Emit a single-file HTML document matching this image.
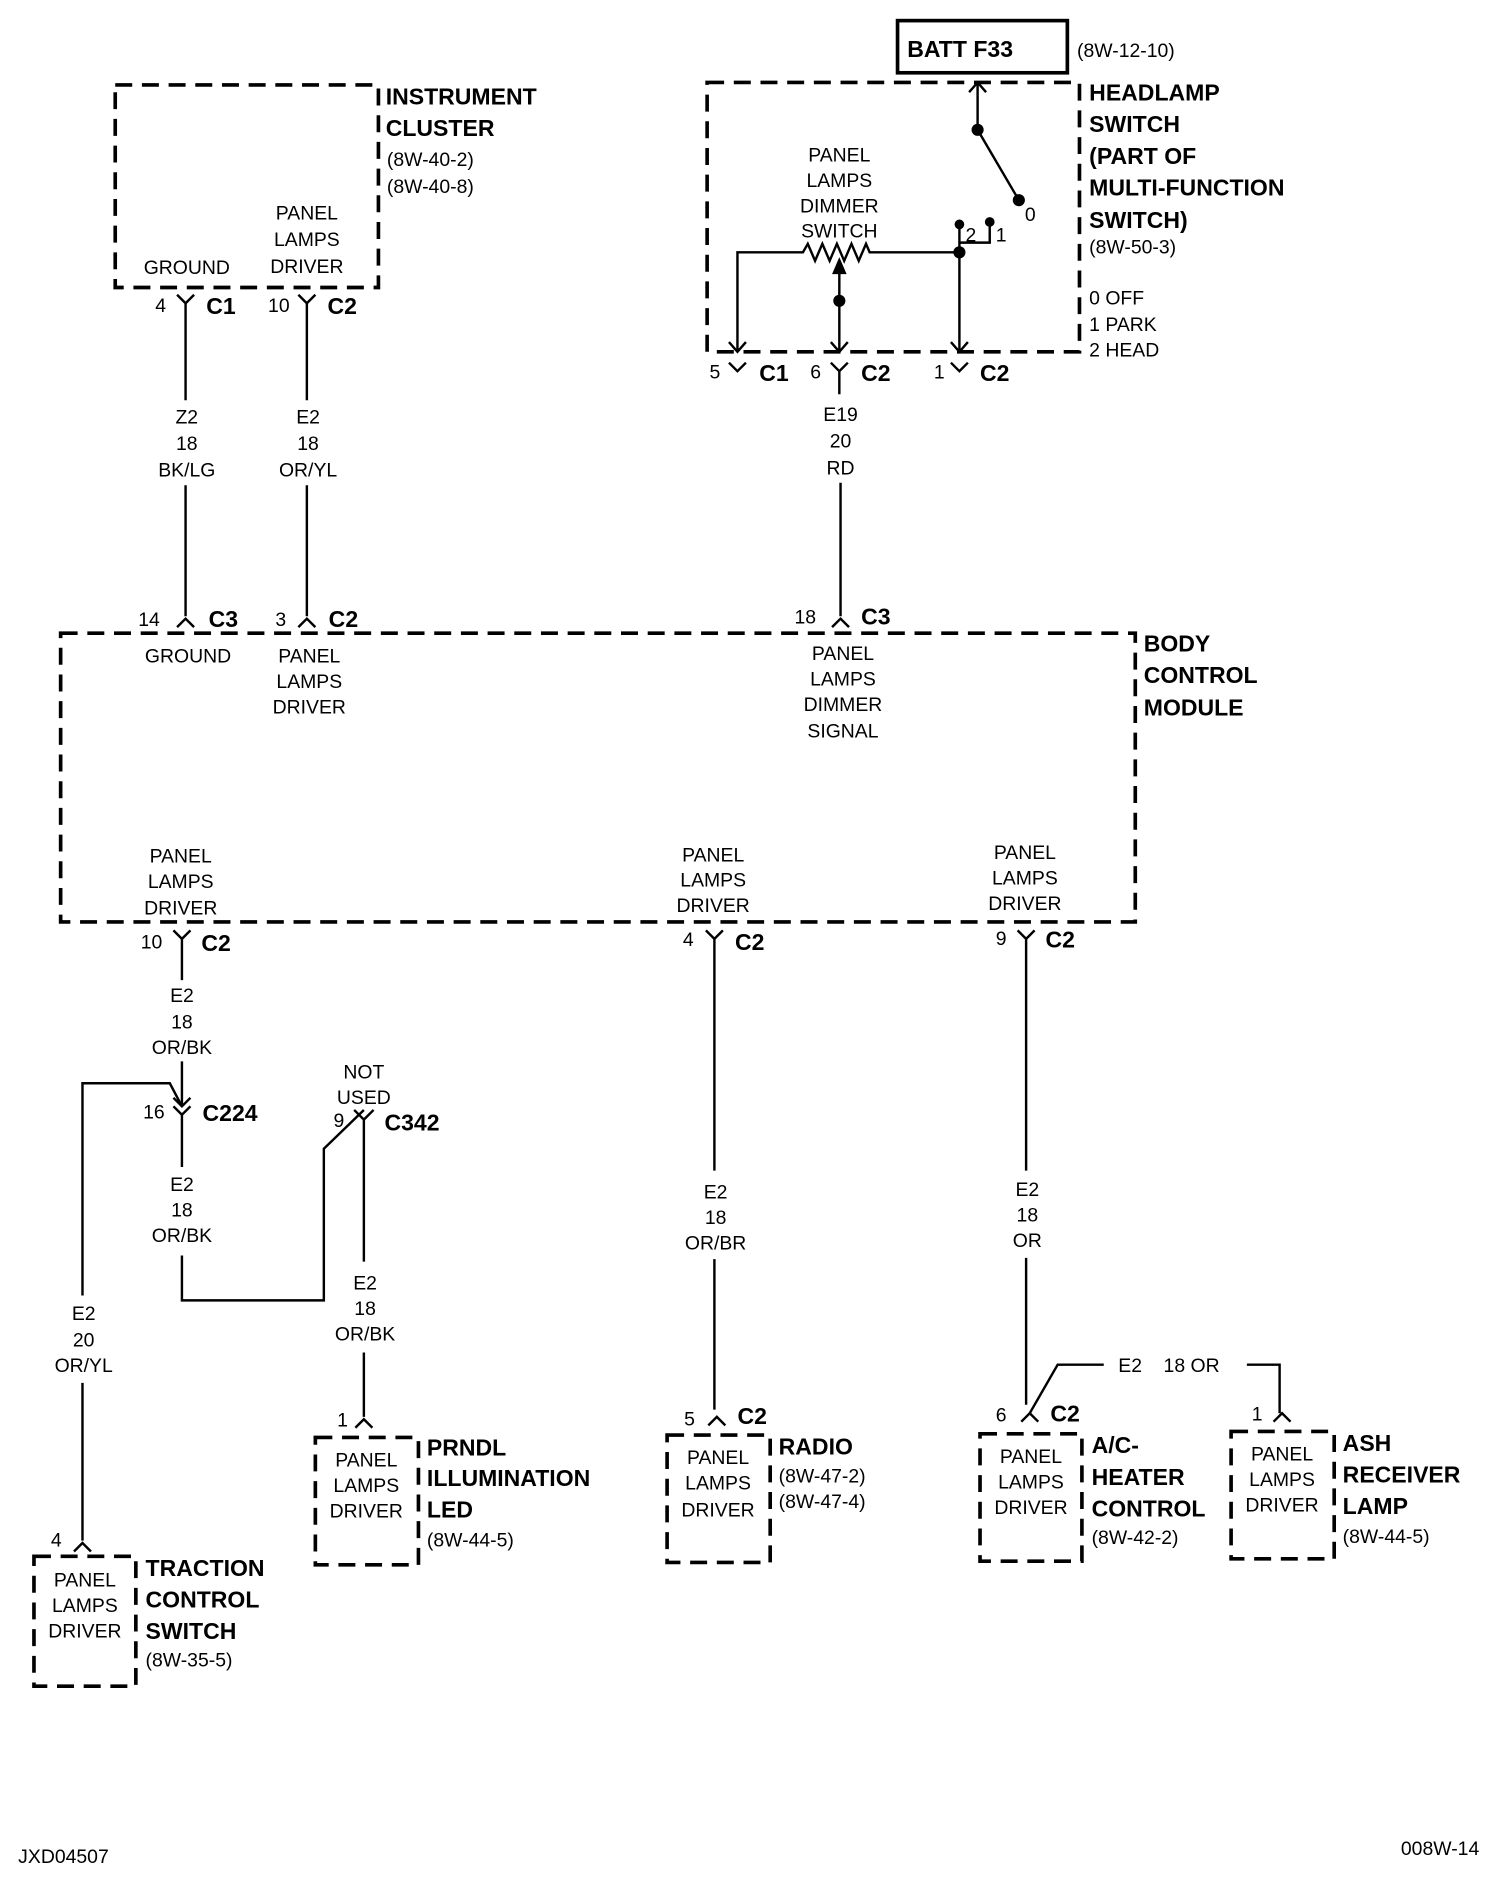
<!DOCTYPE html>
<html><head><meta charset="utf-8"><style>
html,body{margin:0;padding:0;background:#fff}
svg{display:block}
text{font-family:"Liberation Sans Narrow","Liberation Sans",sans-serif;fill:#000}
.t{font-size:16px}
.b{font-size:19px;font-weight:bold}
.c{text-anchor:middle}
</style></head><body>
<svg width="1504" height="1896" viewBox="0 0 1240 1563" preserveAspectRatio="none" xmlns="http://www.w3.org/2000/svg">
<g fill="none" stroke="#000" stroke-width="3" stroke-dasharray="14 8">
<rect x="95" y="70" width="217" height="167"/>
<rect x="583" y="68" width="307" height="222"/>
<rect x="50" y="522" width="886" height="238"/>
<rect x="260" y="1185" width="85" height="105"/>
<rect x="28" y="1283" width="84" height="107"/>
<rect x="550" y="1183" width="85" height="105"/>
<rect x="808" y="1182" width="84" height="105"/>
<rect x="1015" y="1180" width="85" height="105"/>
</g>
<rect x="740" y="17" width="140" height="43" fill="none" stroke="#000" stroke-width="3"/>
<g fill="none" stroke="#000" stroke-width="2">
<path d="M153 250V330M153 400V508"/>
<path d="M253 250V330M253 400V508"/>
<path d="M146 243L153 250L160 243M246 243L253 250L260 243"/>
<path d="M146 517L153 510L160 517M246 517L253 510L260 517"/>
<path d="M806 68V107L840 165"/>
<path d="M799 76L806 68L813 76"/>
<path d="M608 290V208H662l4-7l6 14l6-14l6 14l6-14l6 14l6-14l6 14l6-14l3 7H791"/>
<path d="M791 187V290M816 185V200H791"/>
<path d="M601 282L608 290L615 282M784 282L791 290L798 282M685 282L692 290L699 282"/>
<path d="M692 225V290"/>
<path d="M601 299L608 306L615 299M784 299L791 306L798 299M685 299L692 306L699 299M692 306V325"/>
<path d="M693 398V508M686 517L693 510L700 517"/>
<path d="M143 767L150 774L157 767M150 774V808M150 875V912"/>
<path d="M582 767L589 774L596 767M589 774V965M589 1038V1162"/>
<path d="M839 767L846 774L853 767M846 774V965M846 1037V1158"/>
<path d="M143 905L150 912L157 905M143 912L150 919L157 912M150 919V962M150 1035V1072H267V947L300 915"/>
<path d="M68 1270V1140M68 1068V893H140L150 912"/>
<path d="M292 915L300 923L308 915M300 923V1040M300 1115V1168"/>
<path d="M293 1177L300 1170L307 1177M61 1279L68 1272L75 1279M584 1175L591 1168L598 1175M842 1172L849 1165L856 1172M1050 1172L1057 1165L1064 1172"/>
<path d="M849 1165L872 1125H910M1028 1125H1055V1165"/>
</g>
<g fill="#000">
<circle cx="806" cy="107" r="5"/><circle cx="840" cy="165" r="5"/>
<circle cx="791" cy="185" r="4"/><circle cx="816" cy="183" r="4"/>
<circle cx="791" cy="208" r="5"/><circle cx="692" cy="248" r="5"/>
<path d="M692 212L686 226H698Z"/>
</g>
<text class="b" x="318" y="86">INSTRUMENT</text>
<text class="b" x="318" y="112">CLUSTER</text>
<text class="t" x="319" y="137">(8W-40-2)</text>
<text class="t" x="319" y="159">(8W-40-8)</text>
<text class="t c" x="154" y="226">GROUND</text>
<text class="t c" x="253" y="181">PANEL</text><text class="t c" x="253" y="203">LAMPS</text><text class="t c" x="253" y="225">DRIVER</text>
<text class="t" x="128" y="257">4</text><text class="b" x="170" y="259">C1</text>
<text class="t" x="221" y="257">10</text><text class="b" x="270" y="259">C2</text>
<text class="t c" x="154" y="349">Z2</text><text class="t c" x="154" y="371">18</text><text class="t c" x="154" y="393">BK/LG</text>
<text class="t c" x="254" y="349">E2</text><text class="t c" x="254" y="371">18</text><text class="t c" x="254" y="393">OR/YL</text>
<text class="t" x="114" y="516">14</text><text class="b" x="172" y="517">C3</text>
<text class="t" x="227" y="516">3</text><text class="b" x="271" y="517">C2</text>
<text class="t" x="655" y="514">18</text><text class="b" x="710" y="515">C3</text>
<text class="b" x="748" y="47">BATT F33</text>
<text class="t" x="888" y="47">(8W-12-10)</text>
<text class="b" x="898" y="83">HEADLAMP</text><text class="b" x="898" y="109">SWITCH</text><text class="b" x="898" y="135">(PART OF</text><text class="b" x="898" y="161">MULTI-FUNCTION</text><text class="b" x="898" y="188">SWITCH)</text>
<text class="t" x="898" y="209">(8W-50-3)</text>
<text class="t" x="898" y="251">0 OFF</text><text class="t" x="898" y="273">1 PARK</text><text class="t" x="898" y="294">2 HEAD</text>
<text class="t c" x="692" y="133">PANEL</text><text class="t c" x="692" y="154">LAMPS</text><text class="t c" x="692" y="175">DIMMER</text><text class="t c" x="692" y="196">SWITCH</text>
<text class="t" x="845" y="182">0</text><text class="t" x="796" y="199">2</text><text class="t" x="821" y="199">1</text>
<text class="t" x="585" y="312">5</text><text class="b" x="626" y="314">C1</text>
<text class="t" x="668" y="312">6</text><text class="b" x="710" y="314">C2</text>
<text class="t" x="770" y="312">1</text><text class="b" x="808" y="314">C2</text>
<text class="t c" x="693" y="347">E19</text><text class="t c" x="693" y="369">20</text><text class="t c" x="693" y="391">RD</text>
<text class="b" x="943" y="537">BODY</text><text class="b" x="943" y="563">CONTROL</text><text class="b" x="943" y="590">MODULE</text>
<text class="t c" x="155" y="546">GROUND</text>
<text class="t c" x="255" y="546">PANEL</text><text class="t c" x="255" y="567">LAMPS</text><text class="t c" x="255" y="588">DRIVER</text>
<text class="t c" x="695" y="544">PANEL</text><text class="t c" x="695" y="565">LAMPS</text><text class="t c" x="695" y="586">DIMMER</text><text class="t c" x="695" y="608">SIGNAL</text>
<text class="t c" x="149" y="711">PANEL</text><text class="t c" x="149" y="732">LAMPS</text><text class="t c" x="149" y="754">DRIVER</text>
<text class="t c" x="588" y="710">PANEL</text><text class="t c" x="588" y="731">LAMPS</text><text class="t c" x="588" y="752">DRIVER</text>
<text class="t c" x="845" y="708">PANEL</text><text class="t c" x="845" y="729">LAMPS</text><text class="t c" x="845" y="750">DRIVER</text>
<text class="t" x="116" y="782">10</text><text class="b" x="166" y="784">C2</text>
<text class="t" x="563" y="780">4</text><text class="b" x="606" y="783">C2</text>
<text class="t" x="821" y="779">9</text><text class="b" x="862" y="781">C2</text>
<text class="t c" x="150" y="826">E2</text><text class="t c" x="150" y="848">18</text><text class="t c" x="150" y="869">OR/BK</text>
<text class="t" x="118" y="922">16</text><text class="b" x="167" y="924">C224</text>
<text class="t c" x="300" y="889">NOT</text><text class="t c" x="300" y="910">USED</text>
<text class="t" x="275" y="929">9</text><text class="b" x="317" y="932">C342</text>
<text class="t c" x="150" y="982">E2</text><text class="t c" x="150" y="1003">18</text><text class="t c" x="150" y="1024">OR/BK</text>
<text class="t c" x="301" y="1063">E2</text><text class="t c" x="301" y="1084">18</text><text class="t c" x="301" y="1105">OR/BK</text>
<text class="t c" x="69" y="1088">E2</text><text class="t c" x="69" y="1110">20</text><text class="t c" x="69" y="1131">OR/YL</text>
<text class="t c" x="590" y="988">E2</text><text class="t c" x="590" y="1009">18</text><text class="t c" x="590" y="1030">OR/BR</text>
<text class="t c" x="847" y="986">E2</text><text class="t c" x="847" y="1007">18</text><text class="t c" x="847" y="1028">OR</text>
<text class="t" x="922" y="1131">E2&#160;&#160;&#160; 18 OR</text>
<text class="t" x="278" y="1176">1</text>
<text class="t" x="42" y="1275">4</text>
<text class="t" x="564" y="1175">5</text><text class="b" x="608" y="1174">C2</text>
<text class="t" x="821" y="1172">6</text><text class="b" x="866" y="1172">C2</text>
<text class="t" x="1032" y="1171">1</text>
<text class="t c" x="302" y="1209">PANEL</text><text class="t c" x="302" y="1230">LAMPS</text><text class="t c" x="302" y="1251">DRIVER</text>
<text class="b" x="352" y="1200">PRNDL</text><text class="b" x="352" y="1225">ILLUMINATION</text><text class="b" x="352" y="1251">LED</text>
<text class="t" x="352" y="1275">(8W-44-5)</text>
<text class="t c" x="70" y="1308">PANEL</text><text class="t c" x="70" y="1329">LAMPS</text><text class="t c" x="70" y="1350">DRIVER</text>
<text class="b" x="120" y="1299">TRACTION</text><text class="b" x="120" y="1325">CONTROL</text><text class="b" x="120" y="1351">SWITCH</text>
<text class="t" x="120" y="1374">(8W-35-5)</text>
<text class="t c" x="592" y="1207">PANEL</text><text class="t c" x="592" y="1228">LAMPS</text><text class="t c" x="592" y="1250">DRIVER</text>
<text class="b" x="642" y="1199">RADIO</text>
<text class="t" x="642" y="1222">(8W-47-2)</text><text class="t" x="642" y="1243">(8W-47-4)</text>
<text class="t c" x="850" y="1206">PANEL</text><text class="t c" x="850" y="1227">LAMPS</text><text class="t c" x="850" y="1248">DRIVER</text>
<text class="b" x="900" y="1198">A/C-</text><text class="b" x="900" y="1224">HEATER</text><text class="b" x="900" y="1250">CONTROL</text>
<text class="t" x="900" y="1273">(8W-42-2)</text>
<text class="t c" x="1057" y="1204">PANEL</text><text class="t c" x="1057" y="1225">LAMPS</text><text class="t c" x="1057" y="1246">DRIVER</text>
<text class="b" x="1107" y="1196">ASH</text><text class="b" x="1107" y="1222">RECEIVER</text><text class="b" x="1107" y="1248">LAMP</text>
<text class="t" x="1107" y="1272">(8W-44-5)</text>
<text class="t" x="15" y="1536">JXD04507</text>
<text class="t" x="1155" y="1529">008W-14</text>
</svg>
</body></html>
